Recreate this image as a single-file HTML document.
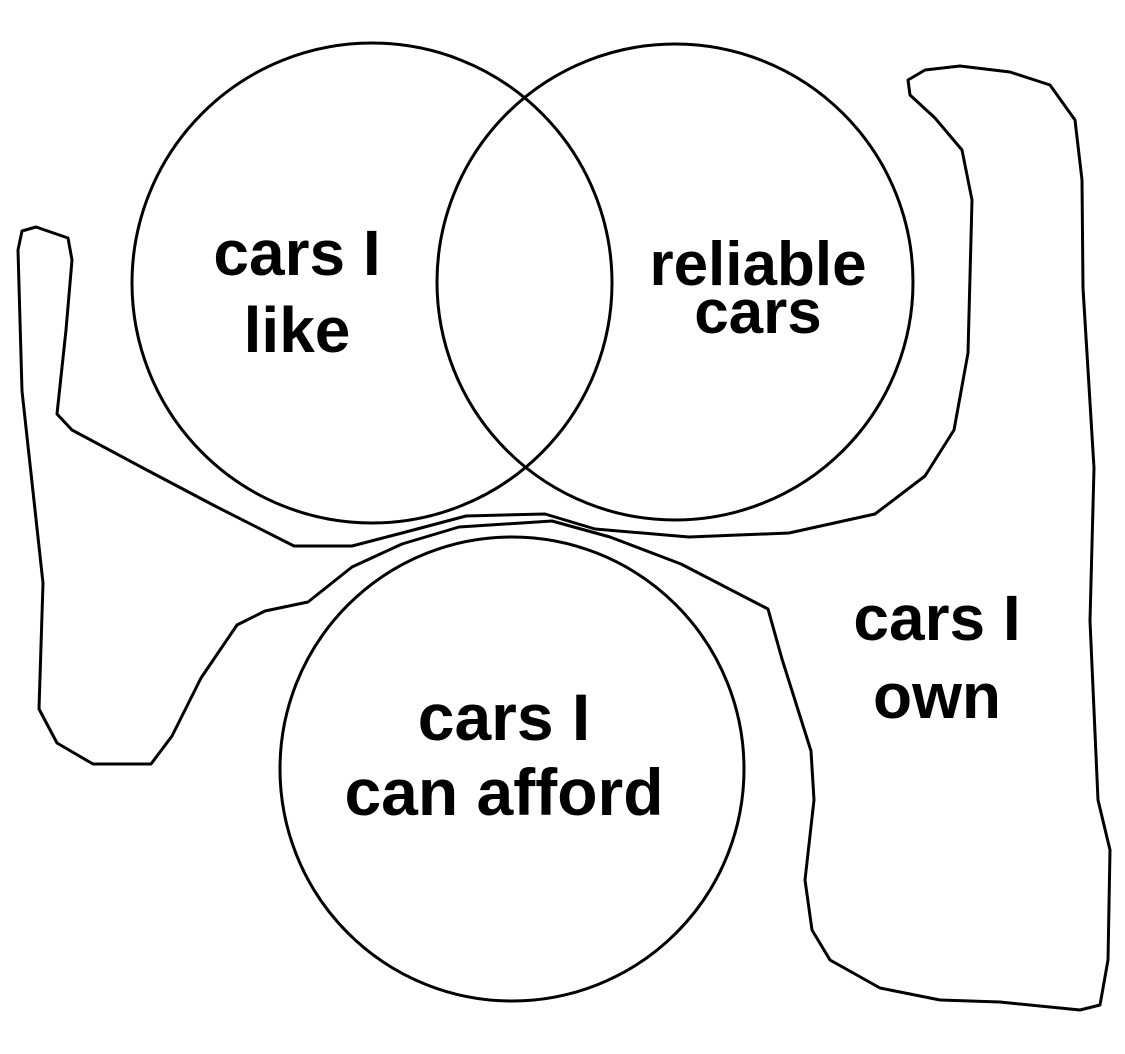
<!DOCTYPE html>
<html><head><meta charset="utf-8"><style>
html,body{margin:0;padding:0;background:#fff;}
svg{display:block;}
text{font-family:"Liberation Sans",sans-serif;font-weight:bold;fill:#000;text-anchor:middle;}
</style></head><body>
<svg width="1125" height="1054" viewBox="0 0 1125 1054" xmlns="http://www.w3.org/2000/svg">
<rect width="1125" height="1054" fill="#fff"/>
<g fill="none" stroke="#000" stroke-width="3" stroke-linejoin="round" stroke-linecap="round">
<circle cx="372" cy="283" r="240"/>
<circle cx="675" cy="282" r="238"/>
<circle cx="512" cy="769" r="232"/>
<path d="M68,238 L72,260 L66,330 L57,414 L72,430 L143,468 L215,506 L294,546 L352,546 L402,533 L466,516 L545,514 L595,529 L689,537 L789,533 L875,514 L925,476 L954,430 L968,353 L972,200 L962,150 L935,118 L910,95 L908,80 L925,70 L960,66 L1010,72 L1050,85 L1075,120 L1082,180 L1083,288 L1094,468 L1090,621 L1098,800 L1110,850 L1108,960 L1100,1005 L1080,1010 L1000,1002 L940,1000 L880,988 L830,960 L812,930 L805,880 L814,800 L811,751 L782,659 L768,609 L681,564 L610,537 L552,521 L459,527 L402,544 L352,567 L308,602 L265,611 L237,625 L201,678 L172,736 L151,764 L93,764 L57,743 L39,709 L43,583 L22,391 L18,250 L22,231 L36,227 L68,238 Z"/>
</g>
<text font-size="64" x="297" y="275">cars I</text>
<text font-size="64" x="297" y="352">like</text>
<text font-size="62" x="758" y="285">reliable</text>
<text font-size="62" x="758" y="333">cars</text>
<text font-size="64" x="937" y="640">cars I</text>
<text font-size="64" x="937" y="718">own</text>
<text font-size="66" x="504" y="740">cars I</text>
<text font-size="66" x="504" y="815">can afford</text>
</svg>
</body></html>
